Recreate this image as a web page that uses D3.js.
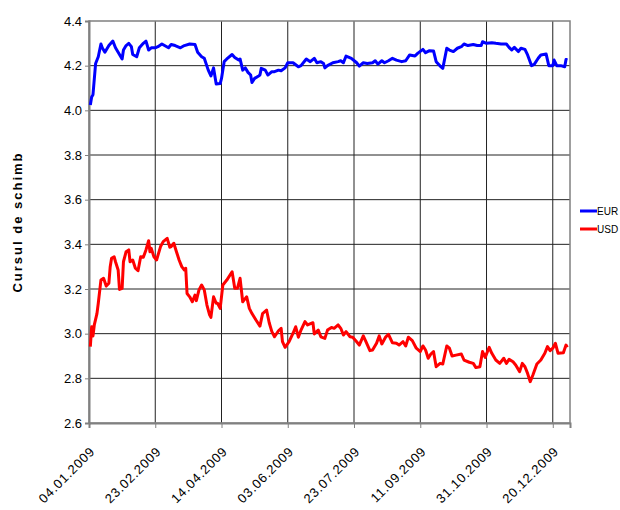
<!DOCTYPE html>
<html>
<head>
<meta charset="utf-8">
<script src="https://cdn.jsdelivr.net/npm/d3@7"></script>
<style>
  html, body { margin: 0; padding: 0; background: #fff; }
  svg { display: block; font-family: "Liberation Sans", Arial, sans-serif; }
</style>
</head>
<body>
<svg id="chart" width="620" height="510"></svg>
<script>
// Exchange rates (lei) in 2009, day offset counted from 04.01.2009
const eurDays = [1,2,3,5,7,9,10,12,15,18,20,22,25,26,28,30,32,33,36,38,41,43,45,47,50,52,55,57,60,62,65,69,72,76,80,82,85,87,90,92,94,96,99,100,102,104,108,110,113,114,116,118,120,122,123,125,128,129,130,133,135,138,140,143,145,148,150,154,158,160,164,167,170,172,175,177,178,180,184,188,190,192,194,198,202,204,207,210,214,216,218,221,223,226,229,232,236,239,242,246,248,252,254,257,260,262,265,267,270,272,275,278,281,283,286,290,293,296,297,300,304,307,311,315,317,319,321,324,326,329,331,334,336,339,341,345,347,350,351,353,356,359,360,361];
const eurValues = [4.024,4.06,4.07,4.21,4.24,4.297,4.28,4.26,4.29,4.31,4.28,4.26,4.23,4.27,4.29,4.30,4.285,4.25,4.24,4.28,4.30,4.31,4.27,4.28,4.28,4.285,4.297,4.29,4.28,4.295,4.29,4.28,4.29,4.297,4.295,4.26,4.24,4.233,4.18,4.154,4.19,4.118,4.12,4.143,4.218,4.23,4.25,4.237,4.225,4.23,4.18,4.19,4.17,4.158,4.125,4.143,4.154,4.158,4.188,4.18,4.158,4.173,4.173,4.18,4.177,4.19,4.213,4.213,4.195,4.20,4.23,4.218,4.233,4.213,4.218,4.21,4.19,4.20,4.213,4.218,4.222,4.213,4.243,4.233,4.213,4.198,4.213,4.21,4.213,4.222,4.207,4.222,4.213,4.222,4.233,4.225,4.218,4.222,4.248,4.243,4.255,4.273,4.258,4.267,4.266,4.218,4.198,4.188,4.278,4.27,4.263,4.278,4.285,4.297,4.29,4.295,4.29,4.29,4.307,4.30,4.303,4.30,4.297,4.297,4.282,4.27,4.282,4.263,4.278,4.273,4.248,4.20,4.206,4.233,4.248,4.252,4.20,4.20,4.225,4.20,4.20,4.195,4.228,4.225];

const usdDays = [1,2,3,4,6,7,9,11,13,15,16,17,19,20,22,23,25,26,28,30,31,33,35,37,39,41,43,45,46,47,49,51,54,56,59,61,62,64,66,68,70,72,73,74,76,78,80,81,83,85,87,89,91,92,94,96,97,99,101,104,108,110,112,114,116,118,119,121,123,126,129,131,134,136,138,140,143,145,146,148,151,154,156,158,160,163,165,169,170,173,175,178,180,183,185,188,190,192,194,197,199,202,204,207,209,212,214,217,219,221,224,226,229,232,234,237,239,241,244,247,250,252,254,256,258,260,262,265,267,270,272,274,277,281,283,287,290,292,295,297,299,302,304,307,310,313,315,317,320,322,325,327,329,331,333,335,338,341,344,346,348,350,352,354,358,360,361];
const usdValues = [2.942,3.031,2.99,3.039,3.09,3.136,3.24,3.248,3.213,3.226,3.30,3.337,3.344,3.322,3.285,3.198,3.203,3.322,3.367,3.375,3.322,3.33,3.293,3.282,3.344,3.342,3.375,3.416,3.367,3.382,3.344,3.33,3.39,3.412,3.427,3.387,3.39,3.405,3.367,3.33,3.30,3.285,3.293,3.18,3.165,3.143,3.173,3.148,3.196,3.218,3.196,3.128,3.084,3.073,3.165,3.136,3.136,3.113,3.218,3.24,3.277,3.203,3.203,3.248,3.143,3.158,3.165,3.113,3.09,3.061,3.034,3.09,3.106,3.049,3.009,2.986,3.013,3.024,2.964,2.939,2.964,3.002,3.031,2.984,3.016,3.054,3.039,3.049,2.999,3.016,2.986,2.979,3.016,3.028,3.024,3.039,3.024,2.994,3.009,2.986,2.984,2.964,2.949,2.99,2.964,2.924,2.927,2.957,2.99,2.954,2.986,2.997,2.959,2.957,2.949,2.964,2.945,2.984,2.969,2.935,2.92,2.945,2.927,2.89,2.909,2.92,2.852,2.867,2.864,2.945,2.935,2.90,2.904,2.909,2.882,2.872,2.867,2.848,2.852,2.92,2.894,2.939,2.912,2.882,2.867,2.89,2.867,2.885,2.874,2.86,2.83,2.867,2.852,2.822,2.785,2.815,2.864,2.882,2.912,2.942,2.924,2.935,2.957,2.912,2.915,2.949,2.939];

const xTickDays = [0,50,100,150,200,250,300,350];
const xTickLabels = ["04.01.2009","23.02.2009","14.04.2009","03.06.2009","23.07.2009","11.09.2009","31.10.2009","20.12.2009"];
const yTicks = [2.6,2.8,3.0,3.2,3.4,3.6,3.8,4.0,4.2,4.4];
const seriesNames = ["EUR","USD"];
const seriesColors = ["#0000ff","#ff0000"];
const yTitle = "Cursul de schimb";

const svg = d3.select("#chart");
const plotLeft = 89, plotRight = 570, plotTop = 21, plotBottom = 423;

const x = d3.scaleLinear().domain([0, 363]).range([plotLeft, plotRight]);
const y = d3.scaleLinear().domain([2.6, 4.4]).range([plotBottom, plotTop]);

// grid
const grid = svg.append("g");
grid.selectAll("line.h").data(yTicks.slice(1, -1)).join("line")
  .attr("x1", plotLeft).attr("x2", plotRight)
  .attr("y1", d => y(d)).attr("y2", d => y(d))
  .attr("stroke", "#222").attr("stroke-width", 1);
grid.selectAll("line.v").data(xTickDays.slice(1)).join("line")
  .attr("y1", plotTop).attr("y2", plotBottom)
  .attr("x1", d => x(d)).attr("x2", d => x(d))
  .attr("stroke", "#222").attr("stroke-width", 1);

// plot frame
svg.append("rect")
  .attr("x", plotLeft).attr("y", plotTop)
  .attr("width", plotRight - plotLeft).attr("height", plotBottom - plotTop)
  .attr("fill", "none").attr("stroke", "#808080").attr("stroke-width", 1.5);

// y axis
const yAxis = d3.axisLeft(y).tickValues(yTicks).tickFormat(d3.format(".1f")).tickSize(4).tickPadding(3);
const gy = svg.append("g").attr("transform", `translate(${plotLeft},0)`).call(yAxis);
gy.select(".domain").attr("stroke", "#808080").attr("stroke-width", 2);
gy.selectAll(".tick line").attr("stroke", "#808080");
gy.selectAll(".tick text").attr("font-size", 13).attr("fill", "#000")
  .attr("font-family", "Liberation Sans, Arial, sans-serif");

// x axis
const xAxis = d3.axisBottom(x).tickValues(xTickDays)
  .tickFormat((d, i) => xTickLabels[i]).tickSize(5);
const gx = svg.append("g").attr("transform", `translate(0,${plotBottom})`).call(xAxis);
gx.select(".domain").attr("stroke", "#808080").attr("stroke-width", 2);
gx.selectAll(".tick line").attr("stroke", "#808080");
gx.selectAll(".tick text")
  .attr("font-size", 13).attr("fill", "#000")
  .attr("font-family", "Liberation Sans, Arial, sans-serif")
  .attr("letter-spacing", "0.8px")
  .attr("text-anchor", "end")
  .attr("x", 0).attr("y", 0).attr("dy", "0.35em")
  .attr("transform", "translate(3,26) rotate(-45)");

// y title
svg.append("text")
  .attr("transform", `translate(22,222) rotate(-90)`)
  .attr("text-anchor", "middle")
  .attr("font-size", 13).attr("font-weight", "bold")
  .attr("letter-spacing", "2px")
  .text(yTitle);

// lines
const line = d3.line().x(d => x(d[0])).y(d => y(d[1]));
const series = [
  eurDays.map((d, i) => [d, eurValues[i]]),
  usdDays.map((d, i) => [d, usdValues[i]])
];
svg.append("g").selectAll("path").data(series).join("path")
  .attr("d", line)
  .attr("fill", "none")
  .attr("stroke", (d, i) => seriesColors[i])
  .attr("stroke-width", 3)
  .attr("stroke-linejoin", "round");

// legend
const lg = svg.append("g").attr("transform", "translate(580,211)");
const items = lg.selectAll("g").data(seriesNames).join("g")
  .attr("transform", (d, i) => `translate(0,${i * 18})`);
items.append("line").attr("x1", 0).attr("x2", 17).attr("y1", 0).attr("y2", 0)
  .attr("stroke", (d, i) => seriesColors[i]).attr("stroke-width", 3);
items.append("text").attr("x", 17).attr("y", 0).attr("dy", "0.35em")
  .attr("font-size", 10).text(d => d);
</script>
</body>
</html>
